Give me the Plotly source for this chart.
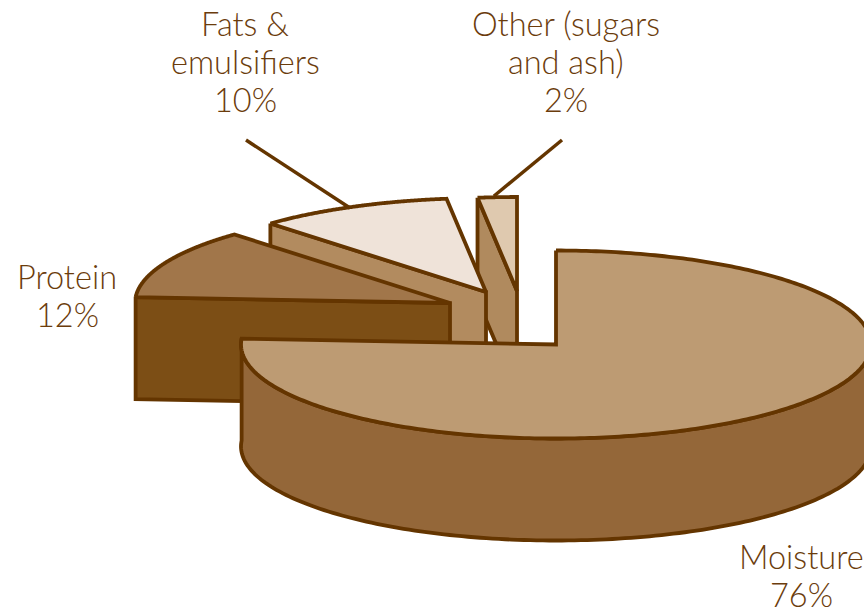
import numpy as np
import plotly.graph_objects as go

# Composition of the product, percent of total
categories = ["Moisture", "Protein", "Fats &|emulsifiers", "Other (sugars|and ash)"]
shares = [76, 12, 10, 2]

# Pixel-space layout of the exploded 3D pie
apex_x = [556, 450, 486, 517]
apex_y = [344.5, 303, 292, 291]
RX, RY = 315, 94
DEPTH = 102
top_colors = ["#BD9B73", "#A1764A", "#EFE3D9", "#DFC9AF"]
wall_colors = ["#946739", "#7C4E15", "#B28B5F", "#B08A5E"]
OUTLINE = "#643500"
TEXT = "#6B3C0C"

label_x = [801, 67, 245, 566]
label_top_y = [556, 276, 23, 23]
LINE_STEP = 38
leader_x = [[246, 350], [562, 494]]
leader_y = [[140, 208], [140, 196]]


def rim(cx, cy, a0, a1, n=160):
    # Ellipse points, angles in degrees measured clockwise from 12 o'clock
    t = np.radians(np.linspace(a0, a1, n))
    return cx + RX * np.sin(t), cy - RY * np.cos(t)


def poly(fig, x, y, color):
    fig.add_trace(go.Scatter(
        x=np.append(x, x[0]), y=np.append(y, y[0]), mode="lines", fill="toself",
        fillcolor=color, line=dict(color=OUTLINE, width=3.8, simplify=False),
        hoverinfo="skip", showlegend=False,
    ))


edges = np.concatenate([[0], np.cumsum(shares) * 3.6])
fig = go.Figure()

# Painted back to front: smallest slice first, the large slice last
for i in (3, 2, 1):
    a0, a1 = edges[i], edges[i + 1]
    cx, cy = apex_x[i], apex_y[i]
    ex, ey = rim(cx, cy, a0, a0, 1)
    # Leading cut face, extruded downward
    poly(fig, np.array([ex[0], cx, cx, ex[0]]),
         np.array([ey[0], cy, cy + DEPTH, ey[0] + DEPTH]), wall_colors[i])
    rx, ry = rim(cx, cy, a0, a1)
    poly(fig, np.append(rx, cx), np.append(ry, cy), top_colors[i])

# Large slice: outer wall for the front half of the rim, then its top
cx, cy = apex_x[0], apex_y[0]
wx, wy = rim(cx, cy, 90, edges[1])
poly(fig, np.concatenate([wx, wx[::-1]]), np.concatenate([wy, wy[::-1] + DEPTH]), wall_colors[0])
rx, ry = rim(cx, cy, 0, edges[1], 300)
poly(fig, np.append(rx, cx), np.append(ry, cy), top_colors[0])

# Leader lines
for lx, ly in zip(leader_x, leader_y):
    fig.add_trace(go.Scatter(x=lx, y=ly, mode="lines", line=dict(color=OUTLINE, width=3.5),
                             hoverinfo="skip", showlegend=False))

# Category labels with their shares, one annotation per text line
for name, val, x, y in zip(categories, shares, label_x, label_top_y):
    for k, line in enumerate(name.split("|") + [f"{val}%"]):
        fig.add_annotation(x=x, y=y + k * LINE_STEP, text=line, showarrow=False,
                           xanchor="center", yanchor="middle",
                           font=dict(family="Lato", size=32.5, weight=300, color=TEXT))

fig.update_xaxes(range=[0, 864], visible=False, fixedrange=True)
fig.update_yaxes(range=[607, 0], visible=False, fixedrange=True)
fig.update_layout(width=864, height=607, margin=dict(l=0, r=0, t=0, b=0),
                  paper_bgcolor="white", plot_bgcolor="white", showlegend=False)
fig.write_html("out.html", config={"displayModeBar": False})
